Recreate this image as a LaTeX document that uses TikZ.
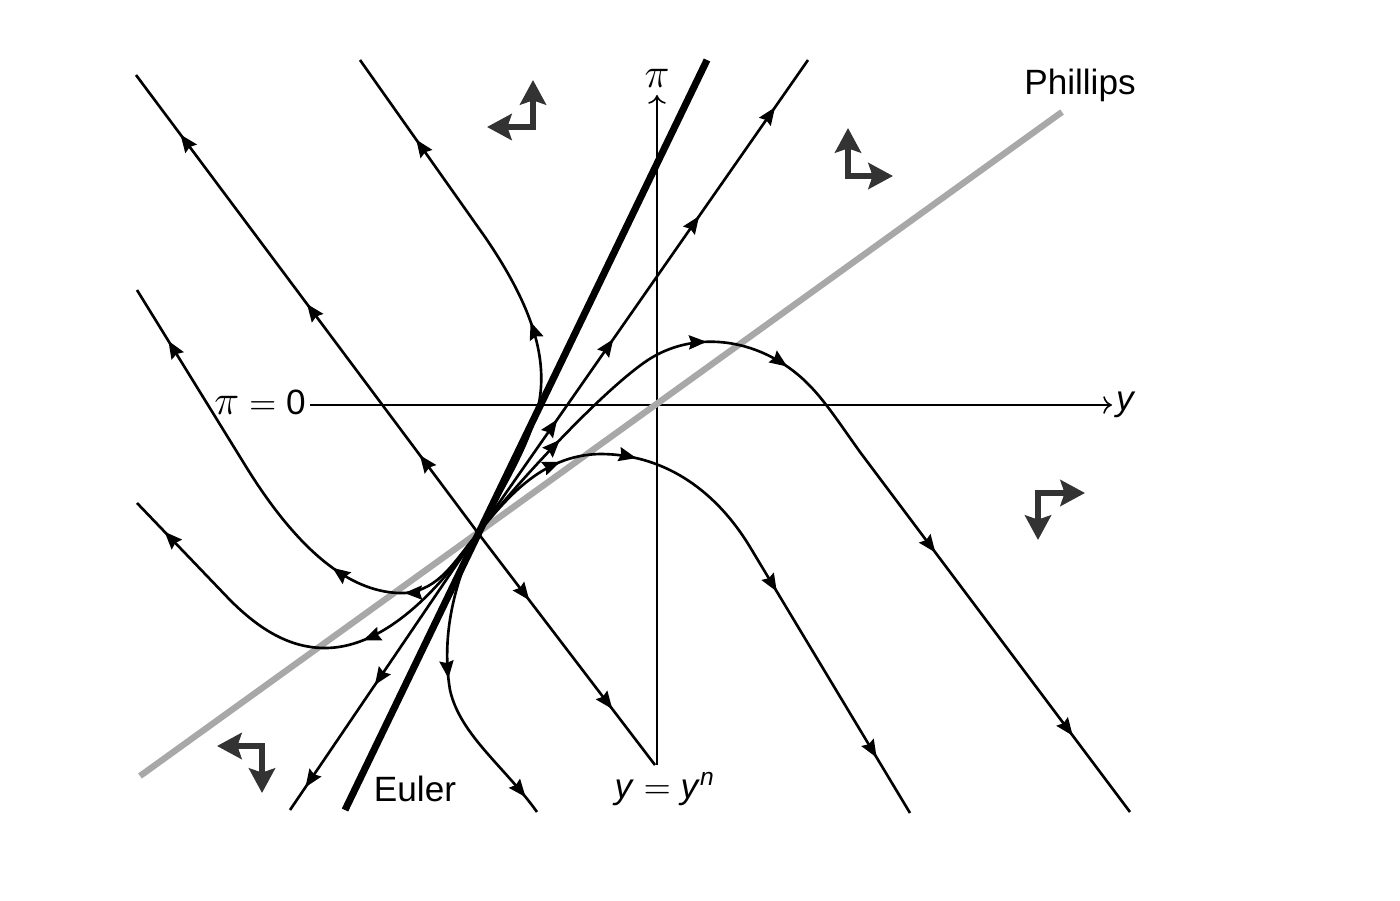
\documentclass[tikz,border=0pt]{standalone}
\usepackage{fontspec}
\setmainfont{Liberation Sans}
\usetikzlibrary{arrows.meta,calc,positioning,decorations.markings}
\definecolor{phgray}{HTML}{A8A8A8}
\definecolor{qgray}{HTML}{333333}

\begin{document}
\begin{tikzpicture}[
traj/.style={line width=0.75pt},
flowtip/.style={postaction={decorate,decoration={markings,
  mark=at position #1 with {\arrow{Stealth[length=5pt,width=4pt,inset=0.6pt]}}}}},
axisline/.style={line width=0.45pt,-{To[length=2.5pt,width=5pt]}},
quad/.style={qgray,line width=1.8pt,
  {Stealth[length=7pt,width=7.4pt,inset=1.2pt]}-{Stealth[length=7pt,width=7.4pt,inset=1.2pt]}},
lbl/.style={inner sep=1pt}]
\useasboundingbox (0,0) rectangle (14,9);
\coordinate (S) at (4.78,3.67);
\coordinate (O) at (6.57,4.95);
\coordinate (yend) at (11.12,4.95);
\coordinate (ybot) at (6.57,1.35);
\coordinate (ytop) at (6.57,8.05);
\coordinate (P1) at (1.40,1.24);
\coordinate (P2) at (10.62,7.88);
\coordinate (E1) at (3.45,0.90);
\coordinate (E2) at (7.07,8.40);
\node[lbl,anchor=east] (pizero) at (3.10,4.98) {{\large$\pi$}\ $=$\ 0};
\node[lbl,right] (ylab) at (yend) {\textit{y}};
\node[lbl,above=1pt] (pilab) at (ytop) {\large$\pi$};
\node (ynlab) at (6.65,1.11) {\textit{y}\ $=$\ \textit{y}\textsuperscript{\textit{n}}};
\node (eulab) at (4.15,1.11) {Euler};
\node (philab) at (10.80,8.15) {Phillips};
\draw[axisline] (pizero.east |- O) -- (yend);
\draw[axisline] (ybot) -- (ytop);
\draw[phgray,line width=1.8pt] (P1) -- (P2);
\draw[traj,flowtip=0.17,flowtip=0.5,flowtip=0.87] (S) -- (1.36,8.25);
\draw[traj,flowtip=0.29,flowtip=0.76] (S) -- (6.55,1.35);
\draw[traj,flowtip=0.24,flowtip=0.41,flowtip=0.67,flowtip=0.90] (S) -- (8.08,8.40);
\draw[traj,flowtip=0.55,flowtip=0.92] (S) -- (2.90,0.90);
\draw[traj,flowtip=0.42,flowtip=0.82] (S) .. controls (5.02,4.10) and (5.30,4.55) .. (5.39,4.97)
  .. controls (5.47,5.40) and (5.35,5.90) .. (4.85,6.63) -- (3.60,8.40);
\draw[traj,flowtip=0.48,flowtip=0.94] (S) .. controls (4.58,3.25) and (4.40,2.70) .. (4.50,2.10)
  .. controls (4.60,1.65) and (5.05,1.33) .. (5.37,0.88);
\draw[traj,flowtip=0.13,flowtip=0.32,flowtip=0.41,flowtip=0.66,flowtip=0.90] (S)
  .. controls (5.05,4.03) and (5.95,5.03) .. (6.45,5.38)
  .. controls (6.85,5.66) and (7.40,5.65) .. (7.85,5.35)
  .. controls (8.15,5.15) and (8.30,4.90) .. (8.60,4.48) -- (11.30,0.88);
\draw[traj,flowtip=0.17,flowtip=0.29,flowtip=0.60,flowtip=0.90] (S)
  .. controls (5.05,3.99) and (5.40,4.45) .. (6.00,4.46)
  .. controls (6.60,4.46) and (7.13,4.14) .. (7.50,3.53) -- (9.10,0.87);
\draw[traj,flowtip=0.19,flowtip=0.34,flowtip=0.885] (S)
  .. controls (4.55,3.40) and (4.40,3.10) .. (4.05,3.07)
  .. controls (3.40,3.05) and (2.85,3.70) .. (2.45,4.35) -- (1.37,6.10);
\draw[traj,flowtip=0.36,flowtip=0.91] (S)
  .. controls (4.55,3.33) and (3.95,2.52) .. (3.25,2.52)
  .. controls (2.90,2.52) and (2.60,2.70) .. (2.30,3.00) -- (1.37,3.97);
\draw[line width=2pt] (E1) -- (E2);
\draw[quad] (4.87,7.73) -- (5.33,7.73) -- (5.33,8.20);
\draw[quad] (8.48,7.72) -- (8.48,7.24) -- (8.93,7.24);
\draw[quad] (10.85,4.07) -- (10.38,4.07) -- (10.38,3.60);
\draw[quad] (2.17,1.54) -- (2.62,1.54) -- (2.62,1.07);
\end{tikzpicture}
\end{document}
